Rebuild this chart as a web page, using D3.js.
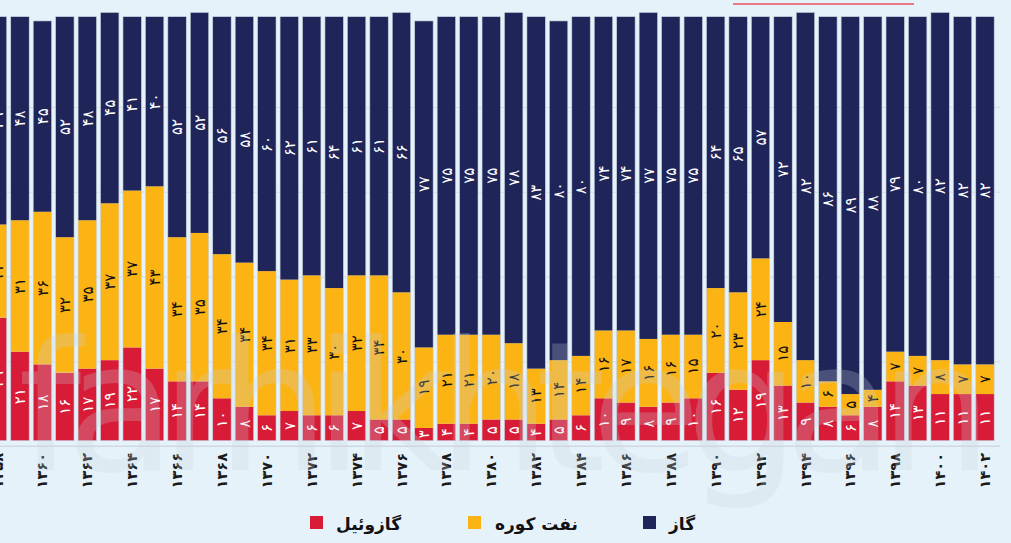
<!DOCTYPE html>
<html>
<head>
<meta charset="utf-8">
<script src="https://cdn.jsdelivr.net/npm/d3@7"></script>
<style>
  html, body { margin: 0; padding: 0; background: #e6f2fa; overflow: hidden; }
  svg { display: block; }
  text { font-family: "DejaVu Sans", "Noto Sans", sans-serif; }
</style>
</head>
<body>
<svg id="main"></svg>
<script>
// years (solar hijri), share of each fuel in percent
var years = [1358, 1359, 1360, 1361, 1362, 1363, 1364, 1365, 1366, 1367, 1368, 1369, 1370,
  1371, 1372, 1373, 1374, 1375, 1376, 1377, 1378, 1379, 1380, 1381, 1382, 1383, 1384, 1385,
  1386, 1387, 1388, 1389, 1390, 1391, 1392, 1393, 1394, 1395, 1396, 1397, 1398, 1399, 1400,
  1401, 1402];
var gasoil = [29, 21, 18, 16, 17, 19, 22, 17, 14, 14, 10, 8, 6, 7, 6, 6, 7, 5, 5, 3, 4, 4, 5,
  5, 4, 5, 6, 10, 9, 8, 9, 10, 16, 12, 19, 13, 9, 8, 6, 8, 14, 13, 11, 11, 11];
var kerosene = [22, 31, 36, 32, 35, 37, 37, 43, 34, 35, 34, 34, 34, 31, 33, 30, 32, 34, 30, 19,
  21, 21, 20, 18, 13, 14, 14, 16, 17, 16, 16, 15, 20, 23, 24, 15, 10, 6, 5, 4, 7, 7, 8, 7, 7];
var gas = [49, 48, 45, 52, 48, 45, 41, 40, 52, 52, 56, 58, 60, 62, 61, 64, 61, 61, 66, 77, 75,
  75, 75, 78, 83, 80, 80, 74, 74, 77, 75, 75, 64, 65, 57, 72, 82, 86, 89, 88, 79, 80, 82, 82, 82];

var keys = ["gasoil", "kerosene", "gas"];
var names = { gasoil: "گازوئیل", kerosene: "نفت کوره", gas: "گاز" };
var colors = { gasoil: "#d81b36", kerosene: "#fcb415", gas: "#1f2459" };
var labelColors = { gasoil: "#ffffff", kerosene: "#111111", gas: "#ffffff" };
var gridVals = [18.6, 38.6, 58.6, 78.6];

var W = 1011, H = 543;

function fa(n) {
  return String(n).replace(/[0-9]/g, function(d) { return "۰۱۲۳۴۵۶۷۸۹"[+d]; });
}

function draw() {
  var s = d3.select("#main").attr("width", W).attr("height", H);
  s.selectAll("*").remove();

  var rows = years.map(function(y, i) {
    return { year: y, gasoil: gasoil[i], kerosene: kerosene[i], gas: gas[i] };
  });

  var x = d3.scaleBand().domain(years).range([-13.7, 996.2])
    .paddingInner(0.18).paddingOuter(0.09);
  var y = d3.scaleLinear().domain([0, 100]).range([440.7, 16.7]);

  // faint grid
  s.append("g").selectAll("line").data(gridVals).enter().append("line")
    .attr("x1", 0).attr("x2", 1000)
    .attr("y1", function(d) { return y(d); }).attr("y2", function(d) { return y(d); })
    .attr("stroke", "#d3dde6").attr("stroke-width", 1);
  s.append("line").attr("x1", 0).attr("x2", 1000)
    .attr("y1", y(-1.3)).attr("y2", y(-1.3))
    .attr("stroke", "#d0d8e0").attr("stroke-width", 1.5);

  var series = d3.stack().keys(keys)(rows);

  var layer = s.append("g").selectAll("g").data(series).enter().append("g")
    .attr("fill", function(d) { return colors[d.key]; });

  layer.selectAll("rect").data(function(d) { return d; }).enter().append("rect")
    .attr("x", function(d) { return x(d.data.year); })
    .attr("width", x.bandwidth())
    .attr("y", function(d) { return y(d[1]); })
    .attr("height", function(d) { return y(d[0]) - y(d[1]); });

  // thin outline around each bar
  s.append("g").selectAll("rect").data(series[2]).enter().append("rect")
    .attr("x", function(d) { return x(d.data.year); })
    .attr("width", x.bandwidth())
    .attr("y", function(d) { return y(d[1]); })
    .attr("height", function(d) { return y(0) - y(d[1]); })
    .attr("fill", "none").attr("stroke", "#c5cfdb").attr("stroke-width", 0.6);

  // value labels, rotated
  series.forEach(function(ser) {
    s.append("g").selectAll("text").data(ser).enter().append("text")
      .attr("transform", function(d) {
        var cx = x(d.data.year) + x.bandwidth() / 2;
        var cy = (y(d[0]) + y(d[1])) / 2;
        return "translate(" + cx + "," + cy + ") rotate(-90)";
      })
      .attr("text-anchor", "middle")
      .attr("dy", "0.35em")
      .attr("font-size", 15)
      .attr("fill", labelColors[ser.key])
      .text(function(d) { return fa(d.data[ser.key]); });
  });

  // x axis labels every second year
  var tickYears = years.filter(function(d) { return d % 2 === 0; });
  s.append("g").selectAll("text").data(tickYears).enter().append("text")
    .attr("transform", function(d) {
      return "translate(" + (x(d) + x.bandwidth() / 2) + ",453) rotate(-90)";
    })
    .attr("text-anchor", "end")
    .attr("dy", "0.35em")
    .attr("font-size", 14.5)
    .attr("font-weight", "bold")
    .attr("fill", "#1a1a1a")
    .text(function(d) { return fa(d); });

  // watermark
  s.append("text")
    .attr("x", 18).attr("y", 470)
    .attr("font-size", 180)
    .attr("font-family", "Lato, 'Open Sans', sans-serif")
    .attr("textLength", 975)
    .attr("lengthAdjust", "spacing")
    .attr("fill", "#c9d3de").attr("opacity", 0.25)
    .text("farhikhtegan");

  // legend
  var legend = [
    { key: "gasoil", sx: 310, tx: 336 },
    { key: "kerosene", sx: 468, tx: 495 },
    { key: "gas", sx: 643, tx: 669 }
  ];
  var lg = s.append("g").selectAll("g").data(legend).enter().append("g");
  lg.append("rect")
    .attr("x", function(d) { return d.sx; }).attr("y", 516)
    .attr("width", 13).attr("height", 13)
    .attr("fill", function(d) { return colors[d.key]; });
  lg.append("text")
    .attr("x", function(d) { return d.tx; }).attr("y", 530)
    .attr("font-size", 17).attr("font-weight", "bold")
    .attr("fill", "#111")
    .text(function(d) { return names[d.key]; });

  // remains of the header above the crop
  s.append("rect").attr("x", 733).attr("y", 3).attr("width", 181).attr("height", 2)
    .attr("fill", "#e87a86");
}

draw();
</script>
</body>
</html>
